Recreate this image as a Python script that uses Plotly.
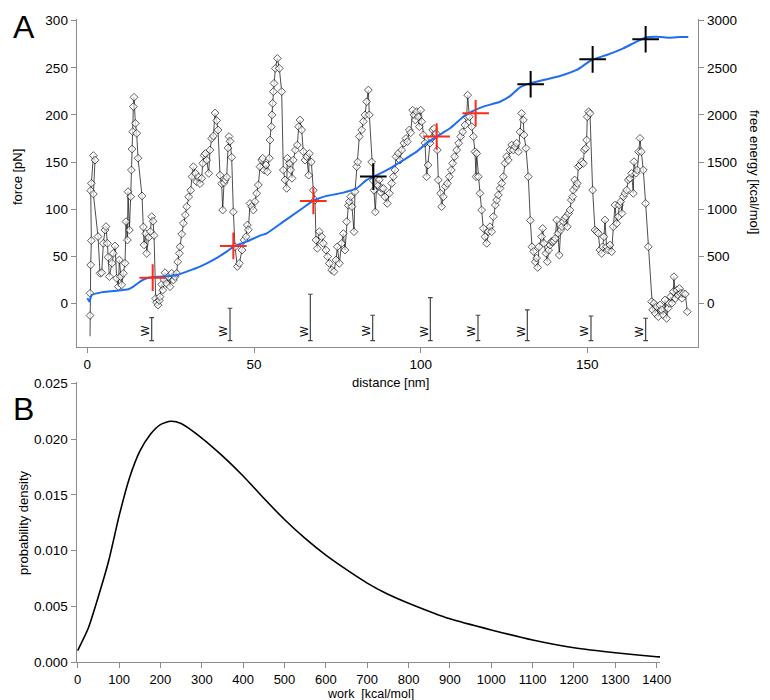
import plotly.graph_objects as go

# ---------------- Panel A data ----------------
force_dist = [
    0.8, 0.8, 0.8, 1.0, 1.2, 1.0, 1.2, 1.8, 2.3, 1.8, 3.2, 3.8, 4.3, 4.8, 5.3, 5.6, 6.0, 6.2, 6.6, 7.4,
    7.8, 8.3, 8.8, 9.3, 9.6, 10.0, 10.3, 10.8, 11.3, 11.6, 12.0, 12.2, 12.6, 13.0, 13.2, 13.4, 13.6, 13.8, 14.0, 14.4,
    14.8, 15.2, 16.4, 16.8, 17.0, 17.5, 17.8, 18.4, 18.9, 19.3, 19.7, 20.0, 20.5, 20.8, 21.2, 21.6, 21.8, 22.3, 22.6, 23.0,
    23.3, 23.8, 24.3, 24.8, 25.3, 25.8, 26.3, 26.8, 27.1, 27.6, 27.8, 28.3, 28.8, 29.4, 29.8, 30.4, 31.0, 31.4, 31.8, 32.4,
    32.8, 33.3, 33.8, 34.3, 34.6, 35.0, 35.4, 35.8, 36.4, 36.8, 37.3, 37.8, 38.3, 38.8, 39.2, 39.8, 40.3, 40.6, 41.0, 41.4,
    41.8, 42.2, 42.5, 42.8, 43.3, 43.8, 44.3, 45.0, 45.6, 46.4, 47.0, 47.6, 48.0, 48.3, 48.8, 49.3, 49.8, 50.3, 50.8, 51.3,
    51.8, 52.3, 52.6, 53.0, 53.6, 54.0, 54.6, 54.8, 55.2, 55.4, 55.6, 55.8, 56.0, 56.4, 57.0, 57.6, 58.3, 58.8, 59.3, 59.8,
    60.0, 60.6, 61.0, 61.4, 61.8, 62.4, 63.0, 63.4, 63.8, 64.3, 64.8, 65.3, 65.8, 66.4, 66.6, 67.2, 67.8, 68.3, 68.6, 69.0,
    69.6, 70.3, 70.8, 71.6, 72.1, 72.6, 73.3, 74.0, 74.6, 75.0, 75.6, 76.3, 76.8, 77.3, 77.8, 78.3, 78.6, 79.0, 79.4, 80.0,
    80.3, 80.8, 81.1, 81.6, 82.3, 82.8, 83.3, 83.8, 84.3, 84.6, 85.3, 85.8, 86.0, 86.4, 86.8, 87.2, 87.6, 88.0, 88.3, 88.8,
    89.3, 90.0, 90.6, 91.3, 91.8, 92.3, 92.6, 93.3, 93.8, 94.3, 95.0, 95.6, 96.0, 96.6, 97.0, 97.6, 98.0, 98.4, 98.8, 99.3,
    99.6, 100.0, 100.3, 100.8, 101.3, 101.8, 102.2, 102.8, 103.3, 103.6, 104.0, 104.6, 105.0, 105.3, 106.0, 106.3, 106.8, 107.4, 108.0, 108.6,
    109.2, 109.6, 110.2, 110.8, 111.4, 112.0, 112.6, 113.3, 113.8, 114.1, 114.6, 115.3, 115.8, 116.3, 116.6, 116.8, 117.3, 117.8, 118.3, 118.8,
    119.3, 119.8, 120.3, 120.8, 121.3, 121.8, 122.4, 122.8, 123.3, 123.8, 124.3, 124.8, 125.3, 125.8, 126.3, 126.8, 127.3, 127.8, 128.3, 128.8,
    129.3, 129.8, 130.3, 130.8, 131.0, 131.6, 132.3, 132.9, 133.4, 133.9, 134.4, 134.8, 135.1, 135.5, 136.3, 136.6, 137.0, 137.6, 138.0, 138.4,
    138.8, 139.2, 139.6, 140.0, 140.4, 140.8, 141.2, 141.6, 142.0, 142.4, 142.8, 143.2, 143.6, 144.0, 144.4, 144.8, 145.2, 145.6, 145.8, 146.2,
    146.6, 147.0, 147.3, 147.8, 148.3, 148.8, 149.1, 149.5, 149.8, 150.0, 150.4, 150.8, 151.6, 152.3, 152.8, 153.3, 153.8, 154.3, 154.6, 155.0,
    155.3, 155.8, 156.3, 156.8, 157.3, 157.8, 158.3, 158.8, 159.3, 159.6, 160.0, 160.4, 160.8, 161.3, 161.8, 162.3, 162.8, 163.3, 163.8, 164.0,
    164.6, 165.0, 165.4, 165.8, 166.2, 166.8, 167.5, 168.3, 169.3, 169.6, 170.0, 170.4, 170.8, 171.3, 171.8, 172.3, 172.8, 173.3, 173.8, 174.2,
    174.6, 175.0, 175.4, 175.8, 176.0, 176.4, 176.8, 177.2, 177.6, 178.0, 178.4, 178.8, 179.4, 180.0,
]
force_pn = [
    -35, -13, 10.6, 40.7, 66.5, 119.6, 127.4, 156.8, 152, 116, 70.8, 31.8, 32.5, 63.7, 77.8, 81.4, 63.7, 48.8, 28.3, 42.5,
    53.1, 60.9, 26.5, 17.7, 46, 28.3, 19.5, 31.8, 42.5, 86.7, 67.2, 118.5, 77.8, 113.2, 141.5, 163.8, 182.2, 208.8, 218.7, 191,
    180.5, 154, 114, 81, 62, 74, 53, 70, 76, 92, 87, 72, 5, 1, -2, 3, 7, 20, 14, 25,
    32.5, 21, 28, 17.6, 31.8, 24.7, 28.2, 31.8, 44, 53, 60, 73.5, 85, 93.7, 102.6, 113, 120, 134.4, 145, 138,
    129, 134, 127, 132.7, 148.6, 157, 159, 152, 138, 162.7, 175, 177.6, 202, 194, 184, 136, 127, 99, 128, 131,
    134, 165, 177, 172, 155, 97, 60, 39, 42.4, 56.5, 67.2, 70.7, 83, 78, 106, 102.6, 99, 108, 116.7, 125.6,
    145, 152, 154, 141.5, 146.8, 139.7, 154, 173.3, 187.5, 200, 212.3, 224.7, 233.5, 249.4, 260, 249.4, 224.7, 141.5, 131, 122,
    154, 148.6, 141.5, 132.7, 152, 162.7, 168, 187.5, 194.6, 184, 161, 152, 155.6, 136, 159, 150, 120, 109.6, 67.2, 58.3,
    76, 70.7, 63.6, 56.5, 49.5, 42.4, 35.3, 33.6, 46, 60, 42.4, 63.6, 74, 56.5, 86.6, 104, 107.9, 113.2, 102.6, 76,
    118.5, 145, 150, 177, 184, 193, 200, 214, 226.4, 200, 150, 130, 120, 97, 127, 125, 131, 118, 122, 122,
    113, 106, 116.7, 127.3, 134.4, 141.5, 155.7, 159.2, 152, 162.7, 170, 175, 171.6, 184, 181, 205, 200, 194.6, 203.4, 198,
    187.5, 205, 192.8, 178.7, 170, 134.4, 146.8, 170, 175, 184, 185.7, 180.4, 162.7, 130.9, 116.7, 102.6, 113, 124, 127.3, 134.4,
    141.5, 148.6, 155.7, 162.7, 170, 177, 182, 189.3, 198, 221, 198, 187.5, 177, 161, 134.4, 159, 134.4, 116.7, 99, 79.6,
    70.7, 63.6, 76, 81.3, 76, 92, 104.3, 109.6, 115, 122, 127.3, 134.4, 148.6, 155.7, 152, 162.7, 168, 162.7, 166.3, 170,
    161, 182, 201.6, 194.6, 178.7, 164.5, 134.4, 88, 60, 55, 44, 48, 38, 60, 70.7, 79.5, 63.6, 53, 44.2, 56.5,
    61.8, 65.4, 65.4, 66.4, 69, 88.4, 74.2, 51.2, 77.8, 81.3, 86.6, 90.1, 91.9, 81.3, 95.4, 99, 109.6, 113.2, 120.2, 130.9,
    123.8, 127.3, 145, 146.8, 150.3, 148.5, 162.7, 164.5, 173.3, 198, 203.4, 201.6, 120.2, 77.8, 76, 74.2, 56.5, 53, 60, 70.7,
    88.4, 60, 56.5, 61.8, 54.8, 81.3, 104.3, 84.8, 91.9, 104.3, 107.8, 95.4, 113.2, 116.7, 120.2, 130.9, 132.6, 138, 116.7, 150.3,
    138, 141.5, 160.9, 175.1, 160.9, 141.5, 106, 60, 1.7, -7, 0, -10.7, -3.6, -14.2, -1.8, -7, -12.5, 3.5, -16, -5.4,
    0, 7, 0, 12.3, 28.2, 5.2, 14, 8.8, 15.8, 10.5, 5.2, 10.5, 9.8, -9,
]

energy_dist = [0.0, 0.6, 1.3, 3.8, 7.8, 12.3, 13.8, 15.8, 17.8, 19.8, 22.8, 26.8, 29.8, 33.8, 37.8, 41.8,
               43.8, 47.8, 51.8, 53.8, 58.8, 63.8, 67.8, 71.8, 76.8, 80.8, 83.8, 86.8, 90.8, 94.8, 98.8,
               101.8, 104.8, 108.8, 112.8, 115.3, 118.8, 123.8, 126.8, 129.8, 132.8, 136.8, 141.8, 146.8,
               151.3, 155.8, 160.8, 164.8, 167.8, 170.8, 174.8, 177.8, 180.3]
energy_kcal = [55, 18, 88, 113, 130, 149, 177, 230, 265, 280, 283, 300, 336, 389, 460, 548,
               600, 655, 718, 743, 867, 990, 1090, 1140, 1175, 1220, 1310, 1360, 1433, 1520, 1610,
               1700, 1770, 1858, 1980, 2035, 2088, 2140, 2200, 2293, 2335, 2370, 2413, 2477,
               2583, 2636, 2707, 2778, 2824, 2830, 2820, 2827, 2827]

red_cross_dist = [19.6, 43.8, 67.8, 104.8, 116.5]
red_cross_kcal = [272, 609, 1086, 1770, 2017]
black_cross_dist = [85.8, 133.0, 151.6, 167.5]
black_cross_kcal = [1345, 2325, 2590, 2803]

w_dist = [19.3, 42.8, 66.9, 85.6, 102.9, 117.2, 132.0, 151.1, 167.5]
w_top = [-15.3, -5.3, 9.6, -12.7, 5.9, -12.7, -7.1, -13.5, -15.9]
w_bottom = [-39.7, -39.7, -39.7, -39.7, -39.7, -39.7, -39.7, -39.7, -39.7]

x_ticks_a = [0, 50, 100, 150]
y_ticks_a = [0, 50, 100, 150, 200, 250, 300]
y2_ticks_a = [0, 500, 1000, 1500, 2000, 2500, 3000]

# ---------------- Panel B data ----------------
work_kcal = [0, 25, 50, 75, 100, 125, 150, 175, 200, 225, 250, 300, 350, 400, 450, 500, 550,
             600, 650, 700, 750, 800, 900, 1000, 1100, 1200, 1300, 1400, 1410]
prob_density = [0.00105, 0.0030, 0.0059, 0.0091, 0.0131, 0.0165, 0.0189, 0.0204, 0.0213, 0.0216,
                0.0214, 0.0201, 0.0185, 0.0167, 0.0147, 0.0128, 0.0111, 0.0096, 0.0083, 0.0071,
                0.0061, 0.0053, 0.0039, 0.0029, 0.0020, 0.0013, 0.00085, 0.0005, 0.00048]
x_ticks_b = [0, 100, 200, 300, 400, 500, 600, 700, 800, 900, 1000, 1100, 1200, 1300, 1400]
y_ticks_b = [0.000, 0.005, 0.010, 0.015, 0.020, 0.025]

# ---------------- figure ----------------
# the page shows the plot with an 8 px offset, so the figure is 762x692 and
# all target pixel positions are shifted by that offset
OFF = 8
W, H = 770 - OFF, 700 - OFF
FONT = "Liberation Sans, Arial, Helvetica, sans-serif"
AXC = "#8c8c8c"


def px(xp):
    return (xp - OFF) / W


def py(yp):
    return 1 - (yp - OFF) / H


fig = go.Figure()

# force trace
sizes = [0] + [6] * (len(force_dist) - 1)
fig.add_trace(go.Scatter(
    x=force_dist, y=force_pn, mode="lines+markers", xaxis="x", yaxis="y",
    line=dict(color="black", width=0.7),
    marker=dict(symbol="diamond", size=sizes, color="white",
                line=dict(color="black", width=0.9)),
    showlegend=False, hoverinfo="skip"))

# W bars
wx, wy = [], []
cap = 0.7
for xv, t, b in zip(w_dist, w_top, w_bottom):
    wx += [xv, xv, None, xv - cap, xv + cap, None, xv - cap, xv + cap, None]
    wy += [b, t, None, t, t, None, b, b, None]
fig.add_trace(go.Scatter(x=wx, y=wy, mode="lines", xaxis="x", yaxis="y",
                         line=dict(color="#444444", width=1.2),
                         showlegend=False, hoverinfo="skip"))

# free energy line
fig.add_trace(go.Scatter(
    x=energy_dist, y=energy_kcal, mode="lines", xaxis="x", yaxis="y2",
    line=dict(color="#1f6ef0", width=2, shape="spline", smoothing=0.5),
    showlegend=False, hoverinfo="skip"))

fig.add_trace(go.Scatter(
    x=red_cross_dist, y=red_cross_kcal, mode="markers", xaxis="x", yaxis="y2",
    marker=dict(symbol="cross-thin", size=19, line=dict(color="#ff2a1a", width=2)),
    showlegend=False, hoverinfo="skip"))
fig.add_trace(go.Scatter(
    x=black_cross_dist, y=black_cross_kcal, mode="markers", xaxis="x", yaxis="y2",
    marker=dict(symbol="cross-thin", size=19, line=dict(color="black", width=2)),
    showlegend=False, hoverinfo="skip"))

# panel B curve
fig.add_trace(go.Scatter(
    x=work_kcal, y=prob_density, mode="lines", xaxis="x2", yaxis="y3",
    line=dict(color="black", width=1.6, shape="spline", smoothing=0.6),
    showlegend=False, hoverinfo="skip"))


def axis_style(size):
    return dict(showgrid=False, zeroline=False, showline=True, linecolor=AXC, linewidth=1.2,
                ticks="outside", ticklen=5, tickcolor=AXC, tickwidth=1.2,
                tickfont=dict(family=FONT, size=size, color="black"), automargin=False)


fig.update_layout(
    width=W, height=H, margin=dict(l=0, r=0, t=0, b=0, autoexpand=False),
    paper_bgcolor="white", plot_bgcolor="white",
    font=dict(family=FONT, color="black"),
    xaxis=dict(domain=[px(76.7), px(698.3)], range=[-3.2, 183.3], anchor="y",
               tickvals=x_ticks_a, **axis_style(13.5)),
    yaxis=dict(domain=[py(346.7), py(19.3)], range=[-46.1, 301.5], anchor="x",
               tickvals=y_ticks_a, **axis_style(13.5)),
    yaxis2=dict(overlaying="y", side="right", anchor="x", range=[-461, 3015],
                tickvals=y2_ticks_a, **axis_style(13.5)),
    xaxis2=dict(domain=[px(76.7), px(660)], range=[-2.4, 1408], anchor="y3",
                tickvals=x_ticks_b, **axis_style(13)),
    yaxis3=dict(domain=[py(662.3), py(381.7)], range=[0, 0.02515], anchor="x2",
                tickvals=y_ticks_b, tickformat=".3f", **axis_style(13.5)),
)

ann = []
for xv in w_dist:
    ann.append(dict(x=xv - 2.0, y=-29.5, xref="x", yref="y", text="W", showarrow=False,
                    textangle=-90, font=dict(family=FONT, size=11, color="black")))


def label(text, xp, yp, size=13, angle=0):
    ann.append(dict(x=px(xp), y=py(yp), xref="paper", yref="paper", text=text,
                    showarrow=False, textangle=angle, xanchor="center", yanchor="middle",
                    font=dict(family=FONT, size=size, color="black")))


label("A", 23.5, 27, size=32)
label("B", 23.5, 409, size=32)
label("force [pN]", 18, 177, angle=-90)
label("free energy [kcal/mol]", 754, 172, angle=90)
label("distance [nm]", 391, 382)
label("probability density", 23, 523, angle=-90)
label("work  [kcal/mol]", 370, 694, size=12.5)

fig.update_layout(annotations=ann)
fig.write_html("out.html")
